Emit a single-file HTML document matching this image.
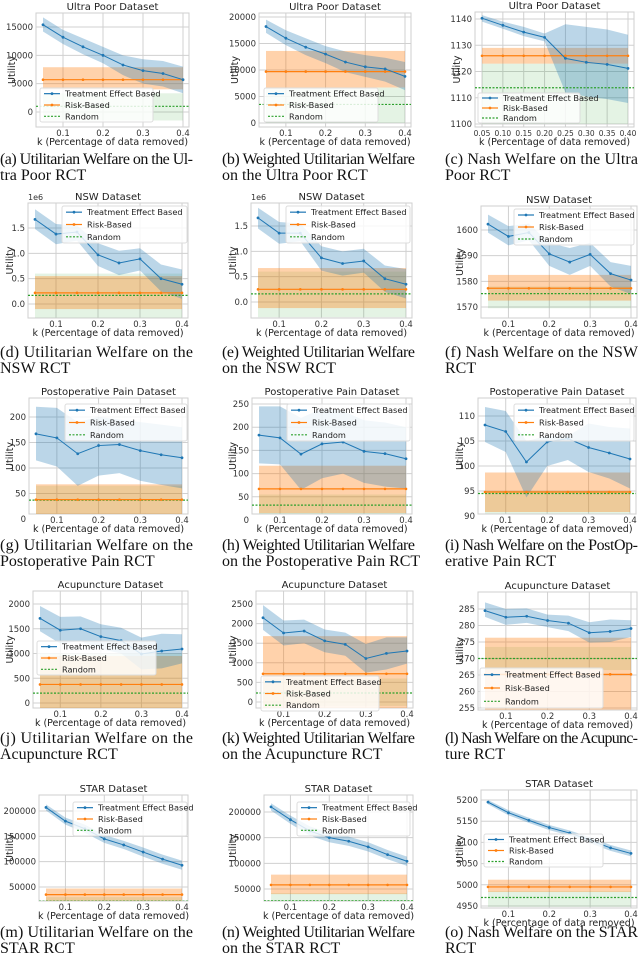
<!DOCTYPE html>
<html><head><meta charset="utf-8"><style>
body{margin:0;background:#fff;}
svg{display:block;font-family:"DejaVu Sans","Liberation Sans",sans-serif;}
.cap{font-family:"Liberation Serif",serif;font-size:16px;fill:#111;}
</style></head><body>
<svg id="fig" width="640" height="969" viewBox="0 0 640 969"></svg>
<script>
const K=[0.05,0.1,0.15,0.2,0.25,0.3,0.35,0.4];
// a Ultra Poor utilitarian
const aTE=[15400,13200,11500,10000,8300,7300,6800,5700];
const aHi=[16700,14500,13000,11500,10000,9300,9000,8000];
const aLo=[14200,12000,10200,8600,6500,5000,4500,3300];
const aRB=[5700,5700,5700,5700,5700,5700,5700,5700];const aRBband=[4000,7900];
const aRND=1000;const aRNDband=[-1500,3300];
// b
const bTE=[18200,16000,14300,13000,11500,10600,10200,8800];
const bHi=[19500,17500,16000,14500,13500,12800,12300,11500];
const bLo=[17000,14700,12800,11300,9600,8700,7800,6200];
const bRB=[9700,9700,9700,9700,9700,9700,9700,9700];const bRBband=[6700,13600];
const bRND=3500;const bRNDband=[0,6700];
// c
const cTE=[1140.3,1137.6,1135,1133,1125,1123.5,1122.7,1121.2];
const cHi=[1141.5,1139,1137,1134.5,1138,1137,1136,1134];
const cLo=[1139,1136.3,1133.5,1131.5,1112,1110.5,1109.5,1108];
const cRB=[1126,1126,1126,1126,1126,1126,1126,1126];const cRBband=[1123,1129];
const cRND=1113.8;const cRNDband=[1100,1123];
// d NSW (1e6)
const dTE=[1.67,1.38,1.42,0.97,0.81,0.89,0.5,0.39];
const dHi=[1.87,1.58,1.55,1.2,1.05,1.1,0.78,0.68];
const dLo=[1.48,1.18,1.25,0.75,0.57,0.66,0.25,0.1];
const dRB=[0.22,0.22,0.22,0.22,0.22,0.22,0.22,0.22];const dRBband=[-0.1,0.55];
const dRND=0.17;const dRNDband=[-0.27,0.6];
// e
const eTE=[1.66,1.36,1.36,0.87,0.76,0.81,0.46,0.35];
const eHi=[1.86,1.58,1.55,1.1,1.0,1.05,0.72,0.65];
const eLo=[1.45,1.15,1.2,0.62,0.52,0.58,0.2,0.07];
const eRB=[0.25,0.25,0.25,0.25,0.25,0.25,0.25,0.25];const eRBband=[-0.12,0.67];
const eRND=0.16;const eRNDband=[-0.3,0.6];
// f
const fTE=[1602.3,1597.5,1599,1590.7,1587.5,1590.5,1583,1580.5];
const fHi=[1606,1601.5,1602.5,1595,1593,1595,1587.5,1586];
const fLo=[1599,1594,1596,1586,1582.5,1586,1578,1575];
const fRB=[1577.3,1577.3,1577.3,1577.3,1577.3,1577.3,1577.3,1577.3];const fRBband=[1572.5,1582.5];
const fRND=1575.2;const fRNDband=[1569.5,1578];
// g Postoperative
const gTE=[167,159,128,144,146,134,126,120];
const gHi=[220,218,190,200,195,190,185,180];
const gLo=[115,103,65,85,90,75,67,60];
const gRB=[38,38,38,38,38,38,38,38];const gRBband=[8,68];
const gRND=37;const gRNDband=[10,65];
// h
const hTE=[183,177,142,164,168,148,143,132];
const hHi=[245,245,220,240,235,215,210,200];
const hLo=[122,120,65,90,100,80,72,68];
const hRB=[67,67,67,67,67,67,67,67];const hRBband=[15,117];
const hRND=32;const hRNDband=[10,55];
// i
const iTE=[108.2,106.9,100.8,104.8,105.5,103.7,102.6,101.4];
const iHi=[111.8,111,105,106,106,108.5,107.8,107.5];
const iLo=[104.8,102.8,93.7,100,101.2,98.8,97.5,95.5];
const iRB=[94.8,94.8,94.8,94.8,94.8,94.8,94.8,94.8];const iRBband=[90.8,98.7];
const iRND=94.5;const iRNDband=[90.5,95];
// j Acupuncture
const jTE=[1710,1470,1500,1340,1260,990,1050,1090];
const jHi=[1960,1740,1750,1590,1520,1320,1400,1390];
const jLo=[1450,1200,1250,1090,1000,680,700,800];
const jRB=[375,375,375,375,375,375,375,375];const jRBband=[-200,950];
const jRND=200;const jRNDband=[-150,1000];
// k
const kTE=[2150,1760,1810,1560,1470,1110,1240,1300];
const kHi=[2470,2080,2100,1850,1770,1480,1650,1650];
const kLo=[1840,1440,1500,1270,1180,750,830,980];
const kRB=[720,720,720,720,720,720,720,720];const kRBband=[-220,1680];
const kRND=230;const kRNDband=[-100,600];
// l
const lTE=[284.5,282.5,282.8,281.5,280.7,277.8,278.2,279.1];
const lHi=[287,285,285.2,283.3,283,281,281.8,281.6];
const lLo=[282.6,280.2,280.8,279.5,278.3,274.8,275.0,276.5];
const lRB=[265.2,265.2,265.2,265.2,265.2,265.2,265.2,265.2];const lRBband=[254.5,276.3];
const lRND=270;const lRNDband=[266.5,273.5];
// m STAR
const mTE=[207000,180000,165000,145000,133000,119000,105000,93000];
const mHi=[213000,187000,173000,153000,141000,128000,114000,102000];
const mLo=[201000,173000,157000,137000,125000,110000,96000,84000];
const mRB=[35000,35000,35000,35000,35000,35000,35000,35000];const mRBband=[23000,47000];
const mRND=22000;const mRNDband=[10000,30000];
// n
const nTE=[210000,185000,163000,150000,143000,132000,117000,104000];
const nHi=[217000,193000,172000,159000,152000,141000,126000,113000];
const nLo=[203000,177000,154000,141000,134000,123000,108000,95000];
const nRB=[58000,58000,58000,58000,58000,58000,58000,58000];const nRBband=[40000,78000];
const nRND=27000;const nRNDband=[10000,42000];
// o
const oTE=[5195,5170,5152,5135,5122,5105,5087,5074];
const oHi=[5200,5176,5158,5141,5128,5112,5094,5081];
const oLo=[5190,5164,5146,5129,5116,5098,5080,5067];
const oRB=[4995,4995,4995,4995,4995,4995,4995,4995];const oRBband=[4983,5012];
const oRND=4970;const oRNDband=[4948,4985];

const DATA={a:[aTE,aHi,aLo,aRB,aRBband,aRND,aRNDband],b:[bTE,bHi,bLo,bRB,bRBband,bRND,bRNDband],c:[cTE,cHi,cLo,cRB,cRBband,cRND,cRNDband],
d:[dTE,dHi,dLo,dRB,dRBband,dRND,dRNDband],e:[eTE,eHi,eLo,eRB,eRBband,eRND,eRNDband],f:[fTE,fHi,fLo,fRB,fRBband,fRND,fRNDband],
g:[gTE,gHi,gLo,gRB,gRBband,gRND,gRNDband],h:[hTE,hHi,hLo,hRB,hRBband,hRND,hRNDband],i:[iTE,iHi,iLo,iRB,iRBband,iRND,iRNDband],
j:[jTE,jHi,jLo,jRB,jRBband,jRND,jRNDband],k:[kTE,kHi,kLo,kRB,kRBband,kRND,kRNDband],l:[lTE,lHi,lLo,lRB,lRBband,lRND,lRNDband],
m:[mTE,mHi,mLo,mRB,mRBband,mRND,mRNDband],n:[nTE,nHi,nLo,nRB,nRBband,nRND,nRNDband],o:[oTE,oHi,oLo,oRB,oRBband,oRND,oRNDband]};

const ticksA=[0,5000,10000,15000],ticksB=[0,5000,10000,15000,20000],ticksC=[1100,1110,1120,1130,1140];
const ticksD=[0,0.5,1.0,1.5],ticksF=[1570,1580,1590,1600],ticksG=[0,50,100,150,200],ticksH=[0,50,100,150,200,250];
const ticksI=[90,95,100,105,110],ticksJ=[0,500,1000,1500,2000],ticksK=[0,500,1000,1500,2000,2500];
const ticksL=[255,260,265,270,275,280,285],ticksM=[50000,100000,150000,200000],ticksO=[4950,5000,5050,5100,5150,5200];
const xTicks=[0.1,0.2,0.3,0.4],xTicksC=[0.05,0.1,0.15,0.2,0.25,0.3,0.35,0.4];

// layout (pixels)
const P=[
{id:'a',t:'Ultra Poor Dataset',x0:43,x1:183,v0:0,p0:112,v1:15000,p1:27,top:13,bot:127,yt:ticksA,ylx:8,leg:[40,88,113,34],cap:['(a) Utilitarian Welfare on the Ul-','tra Poor RCT'],cx:0,cy:164},
{id:'b',t:'Ultra Poor Dataset',x0:266,x1:405,v0:0,p0:123,v1:20000,p1:17,top:13,bot:127,yt:ticksB,ylx:231,leg:[264,88,114,34],cap:['(b) Weighted Utilitarian Welfare','on the Ultra Poor RCT'],cx:222,cy:164},
{id:'c',t:'Ultra Poor Dataset',x0:482,x1:628,v0:1100,p0:124,v1:1140,p1:19,top:12,bot:127,yt:ticksC,ylx:453,leg:[478,93,102,30],cap:['(c) Nash Welfare on the Ultra','Poor RCT'],cx:445,cy:164,xc:1},
{id:'d',t:'NSW Dataset',x0:35,x1:182,v0:0,p0:304,v1:1.5,p1:228,top:203,bot:318,yt:ticksD,ylx:6,leg:[62,206,125,37],cap:['(d) Utilitarian Welfare on the','NSW RCT'],cx:0,cy:357,e6:1},
{id:'e',t:'NSW Dataset',x0:258,x1:406,v0:0,p0:302,v1:1.5,p1:226,top:203,bot:318,yt:ticksD,ylx:229,leg:[286,206,124,37],cap:['(e) Weighted Utilitarian Welfare','on the NSW RCT'],cx:222,cy:357,e6:1},
{id:'f',t:'NSW Dataset',x0:488,x1:631,v0:1570,p0:307,v1:1600,p1:230,top:206,bot:318,yt:ticksF,ylx:456,leg:[514,209,120,36],cap:['(f) Nash Welfare on the NSW','RCT'],cx:445,cy:357},
{id:'g',t:'Postoperative Pain Dataset',x0:36,x1:182,v0:0,p0:519,v1:200,p1:417,top:398,bot:514,yt:ticksG,ylx:6,leg:[65,404,122,37],cap:['(g) Utilitarian Welfare on the','Postoperative Pain RCT'],cx:0,cy:550},
{id:'h',t:'Postoperative Pain Dataset',x0:259,x1:406,v0:0,p0:520,v1:250,p1:404,top:398,bot:514,yt:ticksH,ylx:229,leg:[287,404,123,37],cap:['(h) Weighted Utilitarian Welfare','on the Postoperative Pain RCT'],cx:222,cy:550},
{id:'i',t:'Postoperative Pain Dataset',x0:485,x1:630,v0:90,p0:516,v1:110,p1:416,top:398,bot:514,yt:ticksI,ylx:456,leg:[514,404,120,37],cap:['(i) Nash Welfare on the PostOp-','erative Pain RCT'],cx:445,cy:550},
{id:'j',t:'Acupuncture Dataset',x0:40,x1:182,v0:0,p0:703,v1:2000,p1:604,top:591,bot:708,yt:ticksJ,ylx:6,leg:[37,641,119,34],cap:['(j) Utilitarian Welfare on the','Acupuncture RCT'],cx:0,cy:743},
{id:'k',t:'Acupuncture Dataset',x0:263,x1:407,v0:0,p0:702,v1:2500,p1:604,top:591,bot:708,yt:ticksK,ylx:229,leg:[261,676,118,35],cap:['(k) Weighted Utilitarian Welfare','on the Acupuncture RCT'],cx:222,cy:743},
{id:'l',t:'Acupuncture Dataset',x0:485,x1:631,v0:255,p0:708,v1:285,p1:609,top:592,bot:710,yt:ticksL,ylx:456,leg:[480,668,123,40],cap:['(l) Nash Welfare on the Acupunc-','ture RCT'],cx:445,cy:743},
{id:'m',t:'STAR Dataset',x0:46,x1:182,v0:50000,p0:887,v1:200000,p1:811,top:795,bot:901,yt:ticksM,ylx:6,leg:[73,802,114,34],cap:['(m) Utilitarian Welfare on the','STAR RCT'],cx:0,cy:937},
{id:'n',t:'STAR Dataset',x0:271,x1:407,v0:50000,p0:889,v1:200000,p1:812,top:795,bot:901,yt:ticksM,ylx:229,leg:[297,802,113,34],cap:['(n) Weighted Utilitarian Welfare','on the STAR RCT'],cx:222,cy:937},
{id:'o',t:'STAR Dataset',x0:488,x1:631,v0:4950,p0:906,v1:5200,p1:800,top:790,bot:908,yt:ticksO,ylx:456,leg:[484,834,119,33],cap:['(o) Nash Welfare on the STAR','RCT'],cx:445,cy:937}
];
const NS='http://www.w3.org/2000/svg';
const fig=document.getElementById('fig');
function el(tag,attrs,parent){const e=document.createElementNS(NS,tag);for(const k in attrs)e.setAttribute(k,attrs[k]);parent.appendChild(e);return e;}
function fmt(v,p){if(p.e6)return v.toFixed(1);return String(v);}
P.forEach(p=>{
  const [te,hi,lo,rb,rbb,rnd,rndb]=DATA[p.id];
  const X=v=>p.x0+(v-0.05)*(p.x1-p.x0)/0.35;
  const Y=v=>p.p0+(v-p.v0)*(p.p1-p.p0)/(p.v1-p.v0);
  const L=p.x0-7,R=p.x1+6;
  const g=el('g',{},fig);
  
  
  const clipId='clip'+p.id;
  const cp=el('clipPath',{id:clipId},g);el('rect',{x:L,y:p.top,width:R-L,height:p.bot-p.top},cp);
  const frame=el('rect',{x:L,y:p.top,width:R-L,height:p.bot-p.top,fill:'#fff',stroke:'#cfcfcf','stroke-width':1},g);
  
  
  const pl=el('g',{'clip-path':'url(#'+clipId+')'},g);
  const xt=p.xc?xTicksC:xTicks;
  xt.forEach(v=>{const l=el('line',{x1:X(v),x2:X(v),y1:p.top,y2:p.bot,stroke:'#d0d0d0','stroke-width':1},pl);});
  p.yt.forEach(v=>{const l=el('line',{x1:L,x2:R,y1:Y(v),y2:Y(v),stroke:'#d0d0d0','stroke-width':1},pl);});
  const gb=el('rect',{x:X(0.05),y:Y(rndb[1]),width:X(0.4)-X(0.05),height:Y(rndb[0])-Y(rndb[1]),fill:'#2ca02c','fill-opacity':0.13},pl);
  
  const ob=el('rect',{x:X(0.05),y:Y(rbb[1]),width:X(0.4)-X(0.05),height:Y(rbb[0])-Y(rbb[1]),fill:'#ff7f0e','fill-opacity':0.35},pl);
  
  let d='M'+K.map((k,i)=>X(k)+','+Y(hi[i])).join('L')+'L'+K.map((k,i)=>X(k)+','+Y(lo[i])).reverse().join('L')+'Z';
  const bb=el('path',{d:d,fill:'#1f77b4','fill-opacity':0.3},pl);
  
  const rl=el('line',{x1:L,x2:R,y1:Y(rnd),y2:Y(rnd),stroke:'#2ca02c','stroke-width':1.2,'stroke-dasharray':'2,1.5'},pl);
  
  const ol=el('polyline',{points:K.map((k,i)=>X(k)+','+Y(rb[i])).join(' '),fill:'none',stroke:'#ff7f0e','stroke-width':1.2},pl);
  
  K.forEach((k,i)=>{const m=el('circle',{cx:X(k),cy:Y(rb[i]),r:1.3,fill:'#ff7f0e'},pl);});
  const tl=el('polyline',{points:K.map((k,i)=>X(k)+','+Y(te[i])).join(' '),fill:'none',stroke:'#1f77b4','stroke-width':1},pl);
  
  K.forEach((k,i)=>{const m=el('circle',{cx:X(k),cy:Y(te[i]),r:1.4,fill:'#1f77b4'},pl);});
  p.yt.forEach(v=>{const t=el('text',{x:L-3,y:Y(v)+3,'font-size':8.5,'text-anchor':'end',fill:'#333'},g);t.textContent=fmt(v,p);});
  xt.forEach(v=>{const t=el('text',{x:X(v),y:p.bot+9,'font-size':p.xc?7.5:8.5,'text-anchor':'middle',fill:'#333'},g);t.textContent=p.xc?v.toFixed(2):String(v);});
  const xl=el('text',{x:(L+R)/2,y:p.bot+18,'font-size':9.5,'text-anchor':'middle',fill:'#222'},g);xl.textContent='k (Percentage of data removed)';
  
  const ym=(p.top+p.bot)/2;
  const yl=el('text',{x:p.ylx+7,y:ym,'font-size':9.5,'text-anchor':'middle',fill:'#222',transform:'rotate(-90 '+(p.ylx+7)+' '+ym+')'},g);yl.textContent='Utility';
  
  const ti=el('text',{x:(L+R)/2,y:p.top-3,'font-size':10,'text-anchor':'middle',fill:'#222'},g);ti.textContent=p.t;
  
  if(p.e6){const s=el('text',{x:L,y:p.top-3,'font-size':8,fill:'#333'},g);s.textContent='1e6';}
  const [lx,ly,lw,lh]=p.leg;
  const lg=el('g',{},g);
  el('rect',{x:lx,y:ly,width:lw,height:lh,rx:2,fill:'#fff','fill-opacity':0.82,stroke:'#ddd'},lg);
  const items=[['Treatment Effect Based','#1f77b4',0],['Risk-Based','#ff7f0e',0],['Random','#2ca02c',1]];
  const step=lh/3;
  items.forEach((it,i)=>{const yy=ly+step*(i+0.5);
    const ln=el('line',{x1:lx+4,x2:lx+20,y1:yy,y2:yy,stroke:it[1],'stroke-width':1.2,'stroke-dasharray':it[2]?'2,1.5':'none'},lg);
    
    if(!it[2])el('circle',{cx:lx+12,cy:yy,r:1.4,fill:it[1]},lg);
    const t=el('text',{x:lx+25,y:yy+3,'font-size':8.2,fill:'#222'},lg);t.textContent=it[0];
    });
  const c1=el('text',{x:p.cx,y:p.cy,class:'cap',textLength:193,lengthAdjust:'spacing'},fig);c1.textContent=p.cap[0];
  
  const c2=el('text',{x:p.cx,y:p.cy+16,class:'cap'},fig);c2.textContent=p.cap[1];
  
});
</script>
</body></html>
